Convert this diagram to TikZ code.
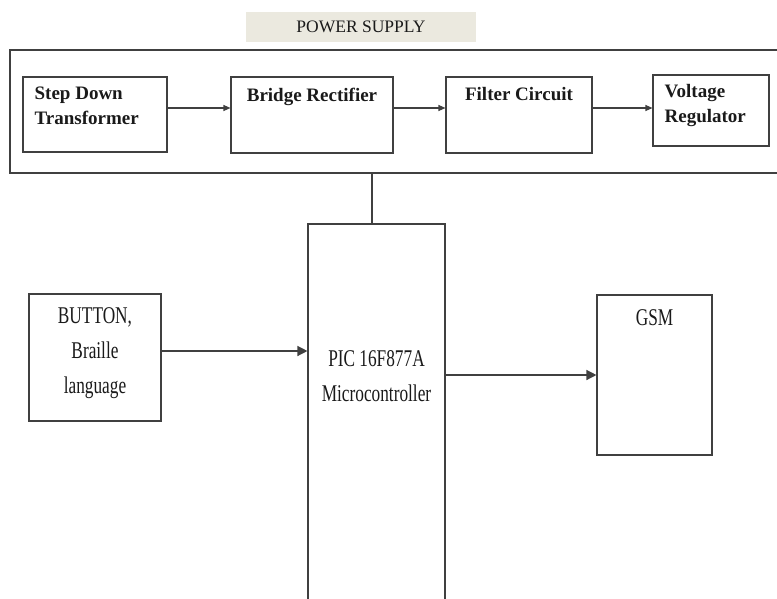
\documentclass[tikz,border=0pt]{standalone}
\usepackage{fontspec}
\setmainfont{Liberation Serif}
\newfontfamily\narrowserif[FakeStretch=0.72]{Liberation Serif}
\usepackage{tikz}
\usetikzlibrary{arrows.meta, positioning}
\definecolor{LineGray}{HTML}{404040}
\definecolor{TagBeige}{HTML}{EBE9DF}
\definecolor{TextDark}{HTML}{1A1A1A}

\begin{document}
\begin{tikzpicture}[x=1pt, y=-1pt,
  block/.style={draw=LineGray, line width=1.1pt, inner sep=0pt},
  toptext/.style={inner sep=0pt, text=TextDark, font=\fontsize{19}{25}\selectfont\bfseries},
  lowtext/.style={inner sep=0pt, align=center, text=TextDark, font=\narrowserif\fontsize{24}{35}\selectfont},
  smallarrow/.style={-{Triangle[length=7pt, width=6pt]}, draw=LineGray, line width=1.1pt},
  bigarrow/.style={-{Triangle[length=10pt, width=10pt]}, draw=LineGray, line width=1.3pt}]
  \useasboundingbox (0,0) rectangle (777,598);
  \clip (0,0) rectangle (777,598);

  % power supply stage
  \node[fill=TagBeige, minimum width=230pt, minimum height=30pt, inner sep=0pt, font=\fontsize{17.5}{20}\selectfont, text=TextDark] (tag) at (361,27) {POWER SUPPLY};
  \node[block, minimum width=780pt, minimum height=123pt] (supply) at (400,111.5) {};
  \node[block, minimum width=144pt, minimum height=75pt] (sdt) at (95,114.5) {};
  \node[block, minimum width=162pt, minimum height=76pt] (bridge) at (312,115) {};
  \node[block, minimum width=146pt, minimum height=76pt] (filter) at (519,115) {};
  \node[block, minimum width=116pt, minimum height=71pt] (reg) at (711,110.5) {};
  \node[toptext, align=left, anchor=north west, below right=10pt and 12pt of sdt.north west] (sdt-t) {Step Down\\Transformer};
  \node[toptext, anchor=north, below=11pt of bridge.north] (bridge-t) {Bridge Rectifier};
  \node[toptext, anchor=north, below=11pt of filter.north] (filter-t) {Filter Circuit};
  \node[toptext, align=left, anchor=north west, below right=10pt and 12pt of reg.north west] (reg-t) {Voltage\\Regulator};

  \coordinate (row) at (0,108);
  \draw[smallarrow] (sdt.east |- row) -- (bridge.west |- row);
  \draw[smallarrow] (bridge.east |- row) -- (filter.west |- row);
  \draw[smallarrow] (filter.east |- row) -- (reg.west |- row);

  % controller stage
  \node[block, minimum width=137pt, minimum height=386pt] (pic) at (376.5,417) {};
  \node[block, minimum width=132pt, minimum height=127pt] (button) at (95,357.5) {};
  \node[block, minimum width=115pt, minimum height=160pt] (gsm) at (654.5,375) {};
  \node[lowtext, anchor=north, below=127pt of pic.north] (pic-t) {PIC 16F877A\\Microcontroller};
  \node[lowtext, anchor=north, below=14pt of button.north] (button-t) {BUTTON,\\Braille\\language};
  \node[lowtext, anchor=north, below=15pt of gsm.north] (gsm-t) {GSM};

  \coordinate (tap) at (372,0);
  \coordinate (keyrow) at (0,351);
  \draw[draw=LineGray, line width=1.1pt] (supply.south -| tap) -- (pic.north -| tap);
  \draw[bigarrow] (button.east |- keyrow) -- (pic.west |- keyrow);
  \draw[bigarrow] (pic.east |- gsm) -- (gsm.west);
\end{tikzpicture}
\end{document}
